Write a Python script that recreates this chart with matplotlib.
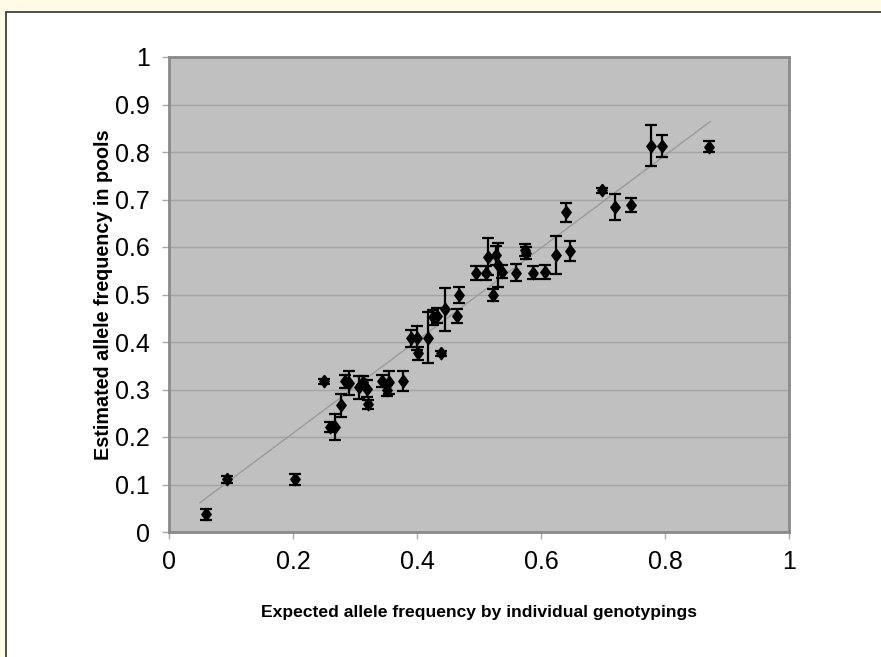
import numpy as np
import matplotlib
matplotlib.use("Agg")
import matplotlib.pyplot as plt
from matplotlib.patches import Rectangle

# expected (individual genotyping) vs estimated (pooled) allele frequency
expected = [0.059, 0.093, 0.204, 0.250, 0.259, 0.268, 0.277, 0.284, 0.291, 0.307,
            0.313, 0.320, 0.321, 0.343, 0.351, 0.355, 0.377, 0.391, 0.400, 0.401,
            0.417, 0.439, 0.426, 0.433, 0.445, 0.467, 0.465, 0.495, 0.512, 0.515,
            0.523, 0.528, 0.531, 0.537, 0.560, 0.574, 0.576, 0.587, 0.606, 0.624,
            0.646, 0.640, 0.698, 0.720, 0.745, 0.777, 0.795, 0.871]
estimated = [0.037, 0.111, 0.111, 0.317, 0.221, 0.221, 0.267, 0.317, 0.314, 0.305,
             0.316, 0.302, 0.269, 0.318, 0.298, 0.315, 0.318, 0.408, 0.408, 0.376,
             0.409, 0.376, 0.452, 0.455, 0.469, 0.499, 0.455, 0.546, 0.546, 0.580,
             0.499, 0.583, 0.562, 0.548, 0.546, 0.594, 0.587, 0.546, 0.548, 0.583,
             0.592, 0.673, 0.719, 0.684, 0.688, 0.813, 0.813, 0.811]
est_err = [0.012, 0.007, 0.012, 0.006, 0.010, 0.027, 0.024, 0.013, 0.026, 0.024,
           0.012, 0.018, 0.009, 0.012, 0.012, 0.024, 0.022, 0.018, 0.025, 0.014,
           0.054, 0.005, 0.016, 0.016, 0.045, 0.017, 0.014, 0.015, 0.015, 0.038,
           0.012, 0.020, 0.047, 0.014, 0.018, 0.012, 0.012, 0.013, 0.015, 0.040,
           0.021, 0.020, 0.006, 0.027, 0.015, 0.043, 0.023, 0.012]

# linear trendline as drawn in the chart
trend_x = [0.050, 0.873]
trend_slope = 0.975
trend_icpt = 0.013

tick_vals_x = [0, 0.2, 0.4, 0.6, 0.8, 1]
tick_vals_y = [0, 0.1, 0.2, 0.3, 0.4, 0.5, 0.6, 0.7, 0.8, 0.9, 1]

W, H = 881, 657
fig = plt.figure(figsize=(W / 100, H / 100), dpi=100)
fig.patch.set_facecolor("#fffbe7")

# white panel with dark frame
fig.patches.append(Rectangle((6 / W, -0.05), 1.0, (H - 12) / H + 0.05, transform=fig.transFigure,
                             facecolor="white", edgecolor="#404040", lw=1.3, zorder=-5))

ax = fig.add_axes([169 / W, 1 - 532 / H, (789 - 169) / W, (532 - 57) / H])
ax.set_zorder(2)
ax.set_facecolor("#c0c0c0")

# slightly tall diamond like the excel marker
diamond = [(0, 1), (0.75, 0), (0, -1), (-0.75, 0), (0, 1)]

ax.plot(trend_x, [trend_icpt + trend_slope * v for v in trend_x], color="#9a9a9a", lw=1.0, zorder=2)
ax.errorbar(expected, estimated, yerr=est_err, fmt="none", ecolor="black",
            elinewidth=1.6, capsize=4.2, capthick=1.6, zorder=3)
ax.plot(expected, estimated, ls="none", marker=diamond, ms=9, color="black", zorder=4)

ax.set_xlim(0, 1)
ax.set_ylim(0, 1)
ax.set_xticks(tick_vals_x)
ax.set_yticks(tick_vals_y)
ax.set_xticklabels([f"{v:g}" for v in tick_vals_x])
ax.set_yticklabels([f"{v:g}" for v in tick_vals_y])
ax.yaxis.grid(True, color="#a4a4a4", lw=1.0)
ax.set_axisbelow(True)

for s in ax.spines.values():
    s.set_color("#8a8a8a")
    s.set_linewidth(2)

tick_font = ["Liberation Sans", "DejaVu Sans"]
ax.tick_params(axis="both", direction="out", length=5, width=1, color="#a8a8a8",
               labelsize=18)
ax.tick_params(axis="y", pad=9)
ax.tick_params(axis="x", pad=8)
for lab in ax.get_xticklabels() + ax.get_yticklabels():
    lab.set_family(tick_font)

ax.set_xlabel("Expected allele frequency by individual genotypings", fontsize=12.6,
              fontweight="bold", family=tick_font, labelpad=22)
ax.set_ylabel("Estimated allele frequency in pools", fontsize=14.2, fontweight="bold",
              family=tick_font, labelpad=1)

plt.savefig("out.png", dpi=100)
